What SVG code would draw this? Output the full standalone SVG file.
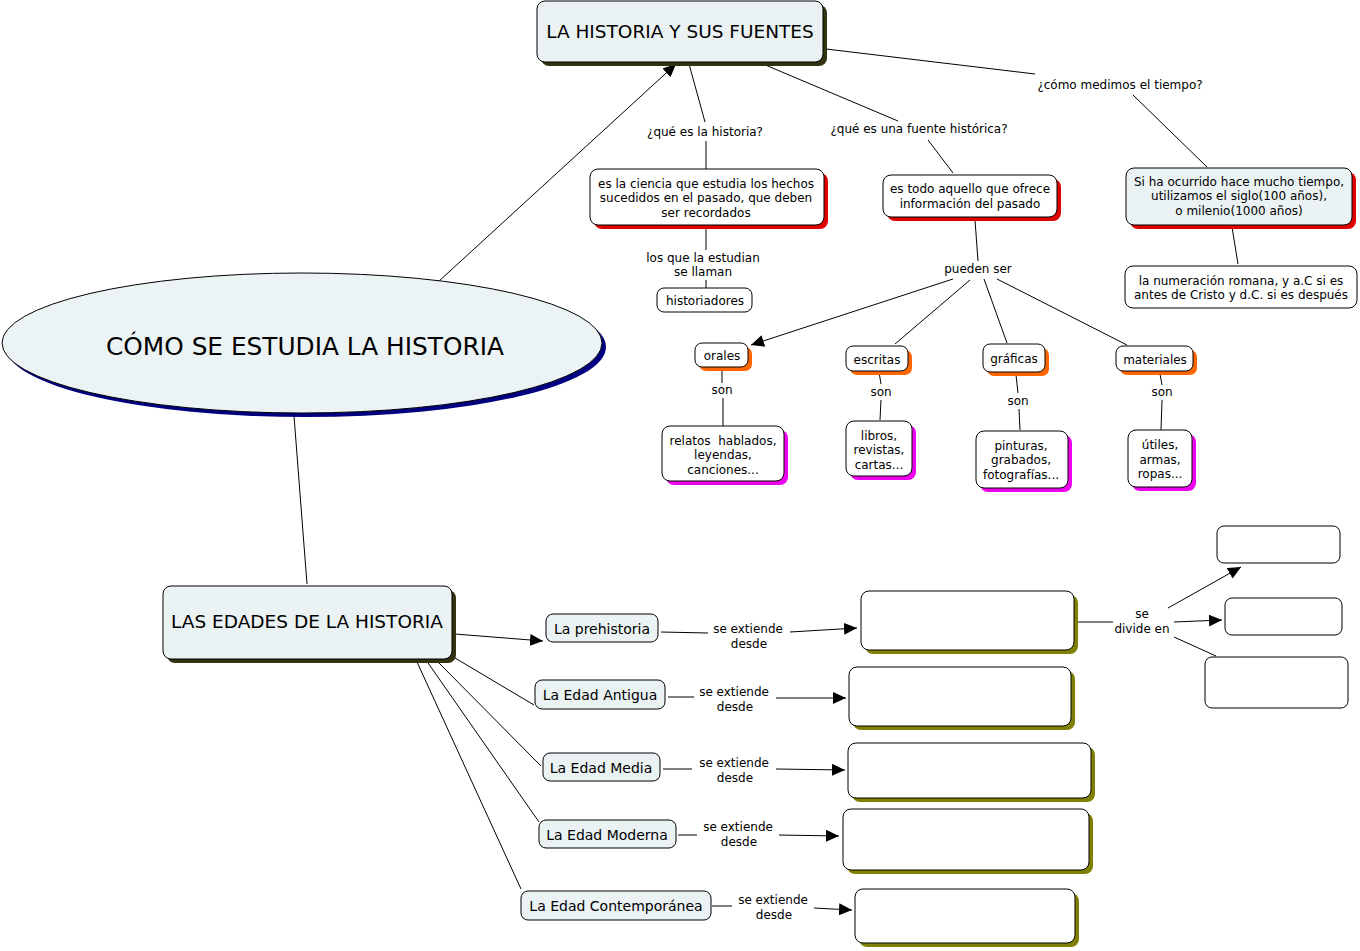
<svg xmlns="http://www.w3.org/2000/svg" width="1360" height="951" viewBox="0 0 1360 951">
<style>
text{font-family:"DejaVu Sans","Verdana",sans-serif;fill:#000;text-anchor:middle}
.s{font-size:12px}
.m{font-size:14px}
.t{font-size:18.5px}
.box{fill:#fff;stroke:#000;stroke-width:1}
.lt{fill:#ebf2f4;stroke:#000;stroke-width:1}
.sh-d{fill:#333311}
.sh-r{fill:#e00000}
.sh-o{fill:#ff6600}
.sh-m{fill:#ee00ee}
.sh-y{fill:#808000}
.c line{stroke:#000;stroke-width:1}
</style>
<defs>
<marker id="ar" markerUnits="userSpaceOnUse" markerWidth="14" markerHeight="12" refX="13" refY="6" orient="auto">
<path d="M0,0 L13,6 L0,12 z" fill="#000"/>
</marker>
</defs>
<rect width="1360" height="951" fill="#fff"/>

<g class="c" id="connectors">
<line x1="438" y1="282" x2="676" y2="64" marker-end="url(#ar)"/>
<line x1="689" y1="64" x2="705" y2="122"/>
<line x1="706" y1="141" x2="706" y2="169"/>
<line x1="763" y1="64" x2="898" y2="121"/>
<line x1="928" y1="140" x2="953" y2="173"/>
<line x1="826" y1="49" x2="1035" y2="74"/>
<line x1="1133" y1="95" x2="1207" y2="167"/>
<line x1="706" y1="227" x2="706" y2="250"/>
<line x1="706" y1="280" x2="706" y2="288"/>
<line x1="975" y1="220" x2="978" y2="261"/>
<line x1="953" y1="279" x2="751" y2="345" marker-end="url(#ar)"/>
<line x1="970" y1="280" x2="895" y2="344"/>
<line x1="984" y1="279" x2="1007" y2="343"/>
<line x1="997" y1="279" x2="1127" y2="345"/>
<line x1="1232" y1="227" x2="1238" y2="264"/>
<line x1="722" y1="368" x2="722" y2="383"/>
<line x1="723" y1="398" x2="723" y2="426"/>
<line x1="879" y1="372" x2="881" y2="384"/>
<line x1="881" y1="400" x2="880" y2="420"/>
<line x1="1016" y1="375" x2="1018" y2="393"/>
<line x1="1019" y1="409" x2="1020" y2="430"/>
<line x1="1160" y1="374" x2="1162" y2="385"/>
<line x1="1162" y1="400" x2="1161" y2="430"/>
<line x1="294" y1="416" x2="307" y2="584"/>
<line x1="455" y1="634" x2="543" y2="641" marker-end="url(#ar)"/>
<line x1="455" y1="658" x2="534" y2="705"/>
<line x1="436" y1="660" x2="541" y2="766"/>
<line x1="426" y1="660" x2="539" y2="822"/>
<line x1="417" y1="662" x2="521" y2="889"/>
<line x1="661" y1="632" x2="708" y2="633"/>
<line x1="790" y1="632" x2="857" y2="628" marker-end="url(#ar)"/>
<line x1="668" y1="697" x2="694" y2="697"/>
<line x1="776" y1="698" x2="846" y2="698" marker-end="url(#ar)"/>
<line x1="663" y1="769" x2="692" y2="769"/>
<line x1="776" y1="769" x2="845" y2="770" marker-end="url(#ar)"/>
<line x1="678" y1="835" x2="697" y2="835"/>
<line x1="779" y1="835" x2="839" y2="836" marker-end="url(#ar)"/>
<line x1="712" y1="906" x2="732" y2="906"/>
<line x1="814" y1="908" x2="852" y2="910" marker-end="url(#ar)"/>
<line x1="1078" y1="622" x2="1113" y2="622"/>
<line x1="1168" y1="608" x2="1241" y2="567" marker-end="url(#ar)"/>
<line x1="1174" y1="622" x2="1222" y2="620" marker-end="url(#ar)"/>
<line x1="1174" y1="637" x2="1216" y2="656"/>
</g>

<g id="labels">
<text class="s" x="705" y="136">¿qué es la historia?</text>
<text class="s" x="919" y="133">¿qué es una fuente histórica?</text>
<text class="s" x="1120" y="89">¿cómo medimos el tiempo?</text>
<text class="s" x="703" y="262">los que la estudian</text>
<text class="s" x="703" y="276">se llaman</text>
<text class="s" x="978" y="273">pueden ser</text>
<text class="s" x="722" y="394">son</text>
<text class="s" x="881" y="396">son</text>
<text class="s" x="1018" y="405">son</text>
<text class="s" x="1162" y="396">son</text>
<text class="s" x="748" y="633">se extiende</text>
<text class="s" x="749" y="648">desde</text>
<text class="s" x="734" y="696">se extiende</text>
<text class="s" x="735" y="711">desde</text>
<text class="s" x="734" y="767">se extiende</text>
<text class="s" x="735" y="782">desde</text>
<text class="s" x="738" y="831">se extiende</text>
<text class="s" x="739" y="846">desde</text>
<text class="s" x="773" y="904">se extiende</text>
<text class="s" x="774" y="919">desde</text>
<text class="s" x="1142" y="618">se</text>
<text class="s" x="1142" y="633">divide en</text>
</g>

<g id="n-fuentes">
<rect class="sh-d" x="541" y="5" width="286" height="61" rx="8"/>
<rect class="lt" x="537" y="1" width="286" height="61" rx="8"/>
<text class="t" x="680" y="38">LA HISTORIA Y SUS FUENTES</text>
</g>

<g id="n-como">
<ellipse cx="306" cy="347" rx="300" ry="70" fill="#000080"/>
<ellipse cx="302" cy="343" rx="300" ry="70" fill="#ecf3f5" stroke="#000" stroke-width="1"/>
<text x="305" y="355" style="font-size:24.8px">CÓMO SE ESTUDIA LA HISTORIA</text>
</g>

<g id="n-ciencia">
<rect class="sh-r" x="594" y="173" width="234" height="56" rx="8"/>
<rect class="box" x="590" y="169" width="234" height="56" rx="8"/>
<text class="s" x="706" y="188">es la ciencia que estudia los hechos</text>
<text class="s" x="706" y="202">sucedidos en el pasado, que deben</text>
<text class="s" x="706" y="217">ser recordados</text>
</g>

<g id="n-historiadores">
<rect class="box" x="657" y="288" width="95" height="24" rx="7"/>
<text class="s" x="705" y="305">historiadores</text>
</g>

<g id="n-todo">
<rect class="sh-r" x="887" y="179" width="174" height="42" rx="8"/>
<rect class="box" x="883" y="175" width="174" height="42" rx="8"/>
<text class="s" x="970" y="193">es todo aquello que ofrece</text>
<text class="s" x="970" y="208">información del pasado</text>
</g>

<g id="n-siglo">
<rect class="sh-r" x="1130" y="172" width="226" height="57" rx="8"/>
<rect class="lt" x="1126" y="168" width="226" height="57" rx="8"/>
<text class="s" x="1239" y="186">Si ha ocurrido hace mucho tiempo,</text>
<text class="s" x="1239" y="200">utilizamos el siglo(100 años),</text>
<text class="s" x="1239" y="215">o milenio(1000 años)</text>
</g>

<g id="n-romana">
<rect class="box" x="1125" y="266" width="232" height="42" rx="8"/>
<text class="s" x="1241" y="285">la numeración romana, y a.C si es</text>
<text class="s" x="1241" y="299">antes de Cristo y d.C. si es después</text>
</g>

<g id="n-orales">
<rect class="sh-o" x="699" y="347" width="53" height="24" rx="7"/>
<rect class="box" x="695" y="343" width="53" height="24" rx="7"/>
<text class="s" x="722" y="360">orales</text>
</g>
<g id="n-escritas">
<rect class="sh-o" x="850" y="350" width="62" height="25" rx="7"/>
<rect class="box" x="846" y="346" width="62" height="25" rx="7"/>
<text class="s" x="877" y="364">escritas</text>
</g>
<g id="n-graficas">
<rect class="sh-o" x="987" y="348" width="62" height="28" rx="7"/>
<rect class="box" x="983" y="344" width="62" height="28" rx="7"/>
<text class="s" x="1014" y="363">gráficas</text>
</g>
<g id="n-materiales">
<rect class="sh-o" x="1120" y="350" width="77" height="25" rx="7"/>
<rect class="box" x="1116" y="346" width="77" height="25" rx="7"/>
<text class="s" x="1155" y="364">materiales</text>
</g>

<g id="n-relatos">
<rect class="sh-m" x="666" y="430" width="122" height="55" rx="8"/>
<rect class="box" x="662" y="426" width="122" height="55" rx="8"/>
<text class="s" x="723" y="445" style="white-space:pre">relatos  hablados,</text>
<text class="s" x="723" y="459">leyendas,</text>
<text class="s" x="723" y="474">canciones...</text>
</g>
<g id="n-libros">
<rect class="sh-m" x="850" y="425" width="66" height="55" rx="8"/>
<rect class="box" x="846" y="421" width="66" height="55" rx="8"/>
<text class="s" x="879" y="440">libros,</text>
<text class="s" x="879" y="454">revistas,</text>
<text class="s" x="879" y="469">cartas...</text>
</g>
<g id="n-pinturas">
<rect class="sh-m" x="980" y="435" width="92" height="57" rx="8"/>
<rect class="box" x="976" y="431" width="92" height="57" rx="8"/>
<text class="s" x="1021" y="450">pinturas,</text>
<text class="s" x="1021" y="464">grabados,</text>
<text class="s" x="1021" y="479">fotografías...</text>
</g>
<g id="n-utiles">
<rect class="sh-m" x="1132" y="434" width="64" height="57" rx="8"/>
<rect class="box" x="1128" y="430" width="64" height="57" rx="8"/>
<text class="s" x="1160" y="449">útiles,</text>
<text class="s" x="1160" y="464">armas,</text>
<text class="s" x="1160" y="478">ropas...</text>
</g>

<g id="n-edades">
<rect class="sh-d" x="167" y="590" width="289" height="73" rx="8"/>
<rect class="lt" x="163" y="586" width="289" height="73" rx="8"/>
<text class="t" x="307" y="628">LAS EDADES DE LA HISTORIA</text>
</g>

<g id="n-prehistoria">
<rect class="lt" x="546" y="614" width="112" height="28" rx="7"/>
<text class="m" x="602" y="634">La prehistoria</text>
</g>
<g id="n-antigua">
<rect class="lt" x="535" y="680" width="130" height="29" rx="7"/>
<text class="m" x="600" y="700">La Edad Antigua</text>
</g>
<g id="n-media">
<rect class="lt" x="543" y="753" width="117" height="28" rx="7"/>
<text class="m" x="601" y="773">La Edad Media</text>
</g>
<g id="n-moderna">
<rect class="lt" x="539" y="820" width="137" height="28" rx="7"/>
<text class="m" x="607" y="840">La Edad Moderna</text>
</g>
<g id="n-contemporanea">
<rect class="lt" x="521" y="891" width="190" height="29" rx="7"/>
<text class="m" x="616" y="911">La Edad Contemporánea</text>
</g>

<g id="n-e1">
<rect class="sh-y" x="865" y="595" width="213" height="59" rx="8"/>
<rect class="box" x="861" y="591" width="213" height="59" rx="8"/>
</g>
<g id="n-e2">
<rect class="sh-y" x="853" y="671" width="222" height="59" rx="8"/>
<rect class="box" x="849" y="667" width="222" height="59" rx="8"/>
</g>
<g id="n-e3">
<rect class="sh-y" x="852" y="747" width="243" height="55" rx="8"/>
<rect class="box" x="848" y="743" width="243" height="55" rx="8"/>
</g>
<g id="n-e4">
<rect class="sh-y" x="847" y="813" width="246" height="61" rx="8"/>
<rect class="box" x="843" y="809" width="246" height="61" rx="8"/>
</g>
<g id="n-e5">
<rect class="sh-y" x="859" y="893" width="220" height="54" rx="8"/>
<rect class="box" x="855" y="889" width="220" height="54" rx="8"/>
</g>

<g id="n-d1">
<rect class="box" x="1217" y="526" width="123" height="37" rx="7"/>
</g>
<g id="n-d2">
<rect class="box" x="1225" y="598" width="117" height="37" rx="7"/>
</g>
<g id="n-d3">
<rect class="box" x="1205" y="657" width="143" height="51" rx="7"/>
</g>
</svg>
